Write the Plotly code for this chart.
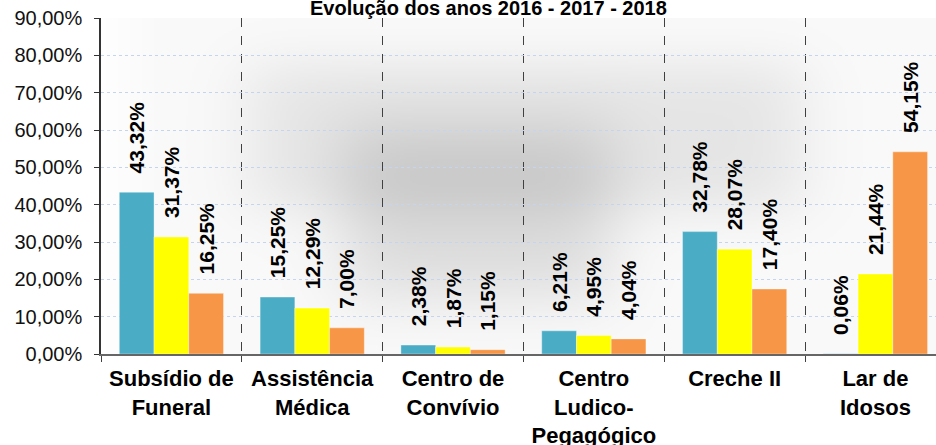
import math, zlib, struct, base64
import plotly.graph_objects as go

categories = ["Subsídio de<br>Funeral", "Assistência<br>Médica", "Centro de<br>Convívio",
              "Centro<br>Ludico-<br>Pegagógico", "Creche II", "Lar de<br>Idosos"]
series_names = ["2016", "2017", "2018"]
values_2016 = [0.4332, 0.1525, 0.0238, 0.0621, 0.3278, 0.0006]
values_2017 = [0.3137, 0.1229, 0.0187, 0.0495, 0.2807, 0.2144]
values_2018 = [0.1625, 0.0700, 0.0115, 0.0404, 0.1740, 0.5415]
colors = ["#4BACC6", "#FFFF00", "#F79646"]
title_text = "Evolução dos anos 2016 - 2017 - 2018"

# ---- background shadow gradient image (plot area 835x336 px, half resolution) ----
W, H = 418, 168
PX0, PY0, PW, PH = 101, 18, 835, 336

def band(p, a, b, s):
    return 0.5 * (math.erf((p - a) / s) - math.erf((p - b) / s))

xs = [PX0 + (i + 0.5) * PW / W for i in range(W)]
ys = [PY0 + (j + 0.5) * PH / H for j in range(H)]
gx1 = [band(x, 250, 800, 45) for x in xs]
gy1 = [band(y, 65, 210, 35) for y in ys]
gx2 = [band(x, 345, 610, 45) for x in xs]
gy2 = [band(y, 130, 295, 45) for y in ys]
lx = [min(1.0, (x - PX0) / 60.0) for x in xs]
raw = bytearray()
for j in range(H):
    raw.append(0)
    for i in range(W):
        v = 254 - 5 * lx[i] - 20 * gx1[i] * gy1[j] - 30 * gx2[i] * gy2[j]
        raw.append(max(0, min(255, int(round(v)))))

def chunk(tag, data):
    c = struct.pack(">I", len(data)) + tag + data
    return c + struct.pack(">I", zlib.crc32(tag + data) & 0xffffffff)

png = b"\x89PNG\r\n\x1a\n" + chunk(b"IHDR", struct.pack(">IIBBBBB", W, H, 8, 0, 0, 0, 0)) \
    + chunk(b"IDAT", zlib.compress(bytes(raw), 9)) + chunk(b"IEND", b"")
img_src = "data:image/png;base64," + base64.b64encode(png).decode()

fig = go.Figure()
for name, vals, col in zip(series_names, [values_2016, values_2017, values_2018], colors):
    fig.add_trace(go.Bar(
        x=categories, y=vals, name=name,
        marker=dict(color=col, line=dict(color="rgba(255,255,255,0.35)", width=1)),
        texttemplate="\u200b\u00a0\u00a0\u2009%{y:.2%}", textposition="outside", textangle=-90,
        textfont=dict(family="Liberation Sans, Arial", size=21, color="black", weight="bold"),
        constraintext="none", cliponaxis=False,
    ))

fig.update_layout(
    width=936, height=445,
    margin=dict(l=101, r=0, t=18, b=91, autoexpand=False),
    paper_bgcolor="white", plot_bgcolor="rgba(0,0,0,0)",
    barmode="group", bargap=0.26, bargroupgap=0,
    showlegend=False,
    separators=",.",
    font=dict(family="Liberation Sans, Arial", color="black"),
    images=[dict(source=img_src, xref="paper", yref="paper", x=0, y=1, sizex=1, sizey=1,
                 sizing="stretch", layer="below", xanchor="left", yanchor="top")],
    annotations=[dict(text="<b>" + title_text + "</b>", xref="paper", yref="paper",
                      x=0.4635, y=1.03, xanchor="center", yanchor="middle", showarrow=False,
                      font=dict(size=20, color="black"))],
)
fig.update_xaxes(
    range=[-0.5, 5.43], tickson="boundaries", ticks="outside", ticklen=6, tickcolor="#404040",
    showgrid=True, gridcolor="#404040", griddash="dash", gridwidth=1,
    showline=True, linecolor="#666666", linewidth=1.5, automargin=False,
    tickfont=dict(size=22, color="black", weight="bold"), ticklabelstandoff=4,
)
fig.update_yaxes(
    range=[0, 0.9], dtick=0.1, tickformat=".2%",
    ticks="outside", ticklen=5, tickcolor="#333333",
    showgrid=True, gridcolor="#c5d5ee", griddash="dot", gridwidth=1,
    showline=True, linecolor="#333333", linewidth=1.5, automargin=False,
    tickfont=dict(size=20, color="#111111"), zeroline=False, ticklabelstandoff=8,
)
fig.write_html("out.html", config={"displayModeBar": False},
               post_script="document.body.style.margin='0px';")
